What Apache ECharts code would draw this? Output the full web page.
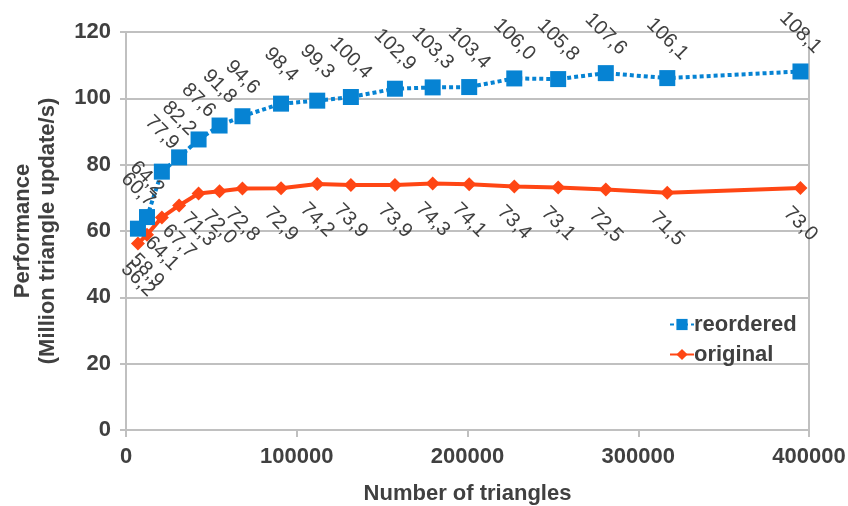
<!DOCTYPE html>
<html>
<head>
<meta charset="utf-8">
<script src="https://cdn.jsdelivr.net/npm/echarts@6/dist/echarts.min.js"></script>
<style>
  html, body { margin: 0; padding: 0; background: #ffffff; }
  #chart { width: 848px; height: 506px; }
</style>
</head>
<body>
<div id="chart"></div>
<script>
// Mesh sizes (number of triangles) for each measurement
const triangles = [7000, 12300, 21000, 31100, 42500, 54800, 68200, 90800, 112000, 131700,
                   157500, 179600, 201000, 227400, 253100, 281000, 317000, 395000];
// Throughput in million triangle updates per second
const reordered = [60.7, 64.2, 77.9, 82.2, 87.6, 91.8, 94.6, 98.4, 99.3, 100.4,
                   102.9, 103.3, 103.4, 106.0, 105.8, 107.6, 106.1, 108.1];
const original  = [56.2, 58.9, 64.1, 67.7, 71.3, 72.0, 72.8, 72.9, 74.2, 73.9,
                   73.9, 74.3, 74.1, 73.4, 73.1, 72.5, 71.5, 73.0];

const xTicks = [0, 100000, 200000, 300000, 400000];
const yTicks = [0, 20, 40, 60, 80, 100, 120];

const FONT = "'Liberation Sans', Arial, sans-serif";
const TEXT = '#404040';
const GRID = '#c0c0c0';
const BLUE = '#0683d3';
const RED = '#ff4614';

const pairs = (ys) => ys.map((y, i) => [triangles[i], y]);
const decimalComma = (p) => p.value[1].toFixed(1).replace('.', ',');

const chart = echarts.init(document.getElementById('chart'), null, { renderer: 'canvas' });

chart.setOption({
  animation: false,
  backgroundColor: '#ffffff',
  grid: { left: 126, right: 39, top: 32, bottom: 76, containLabel: false, outerBoundsMode: 'none' },
  legend: {
    orient: 'vertical',
    left: 664,
    top: 308,
    itemWidth: 24,
    itemHeight: 14,
    itemGap: 7,
    textStyle: { fontFamily: FONT, fontSize: 22, fontWeight: 'bold', color: TEXT, lineHeight: 23, padding: [0, 0, 0, -5] },
    data: ['reordered', 'original']
  },
  xAxis: {
    type: 'value',
    min: xTicks[0],
    max: xTicks[xTicks.length - 1],
    interval: xTicks[1] - xTicks[0],
    name: 'Number of triangles',
    nameLocation: 'middle',
    nameGap: 53,
    nameTextStyle: { fontFamily: FONT, fontSize: 22, fontWeight: 'bold', color: TEXT },
    axisLine: { show: true, lineStyle: { color: GRID, width: 2 } },
    axisTick: { show: true, length: 7, lineStyle: { color: GRID, width: 2 } },
    axisLabel: {
      fontFamily: FONT, fontSize: 22, fontWeight: 'bold', color: TEXT, margin: 16,
      formatter: (v) => String(v)
    },
    splitLine: { show: false }
  },
  yAxis: [{
    type: 'value',
    min: yTicks[0],
    max: yTicks[yTicks.length - 1],
    interval: yTicks[1] - yTicks[0],
    name: 'Performance\n(Million triangle update/s)',
    nameLocation: 'middle',
    nameGap: 66,
    nameTextStyle: { fontFamily: FONT, fontSize: 22, fontWeight: 'bold', color: TEXT, lineHeight: 25 },
    axisLine: { show: true, lineStyle: { color: GRID, width: 2 } },
    axisTick: { show: true, length: 6, lineStyle: { color: GRID, width: 2 } },
    axisLabel: { fontFamily: FONT, fontSize: 22, fontWeight: 'bold', color: TEXT, margin: 15 },
    splitLine: { show: true, lineStyle: { color: GRID, width: 2 } }
  }, {
    type: 'value',
    position: 'right',
    min: yTicks[0],
    max: yTicks[yTicks.length - 1],
    interval: yTicks[1] - yTicks[0],
    axisLine: { show: true, lineStyle: { color: GRID, width: 2 } },
    axisTick: { show: false },
    axisLabel: { show: false },
    splitLine: { show: false }
  }],
  series: [{
    name: 'reordered',
    type: 'line',
    data: pairs(reordered),
    symbol: 'rect',
    symbolSize: 16,
    color: BLUE,
    z: 3,
    lineStyle: { color: BLUE, width: 4, type: [4, 3] },
    itemStyle: { color: BLUE },
    label: {
      show: true,
      position: ['50%', -31],
      align: 'center',
      verticalAlign: 'middle',
      rotate: -45,
      fontFamily: FONT,
      fontSize: 20,
      color: TEXT,
      formatter: decimalComma
    }
  }, {
    name: 'original',
    type: 'line',
    data: pairs(original),
    symbol: 'diamond',
    symbolSize: 14,
    color: RED,
    z: 2,
    lineStyle: { color: RED, width: 4 },
    itemStyle: { color: RED },
    label: {
      show: true,
      position: ['50%', 43],
      align: 'center',
      verticalAlign: 'middle',
      rotate: -45,
      fontFamily: FONT,
      fontSize: 20,
      color: TEXT,
      formatter: decimalComma
    }
  }]
});
</script>
</body>
</html>
